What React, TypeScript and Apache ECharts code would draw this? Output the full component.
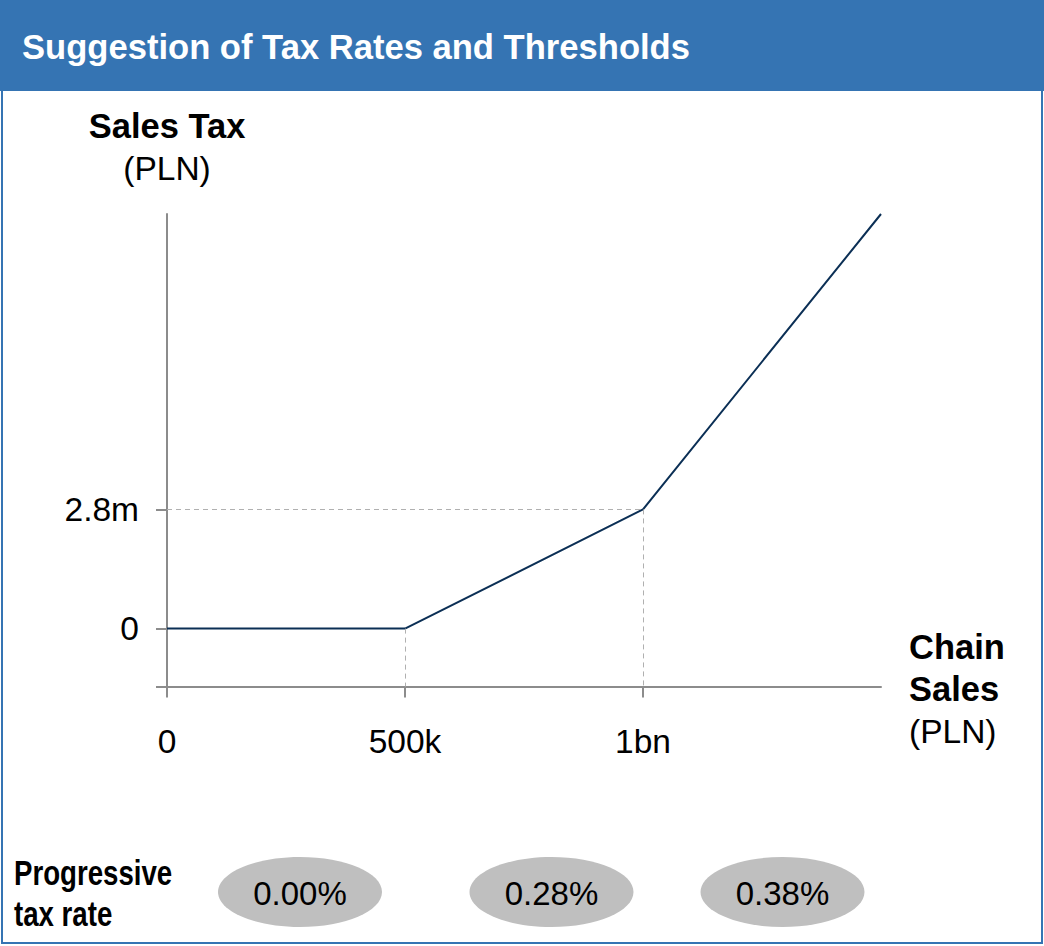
import React, { useEffect, useRef } from 'react';
import * as echarts from 'echarts';

// Chain sales thresholds (x categories) and the resulting sales tax (millions PLN)
const salesLabels = ['0', '500k', '1bn', ''];
const taxValues = [0, 0, 2.8, 9.74];
const taxTickValues = [0, 2.8];
const taxTickLabels = ['0', '2.8m'];
const taxAxisMin = -1.36;
const taxAxisMax = 9.74;
const rateLabels = ['0.00%', '0.28%', '0.38%'];

const FONT = 'Liberation Sans, Arial, Helvetica, sans-serif';

export default function App() {
  const ref = useRef<HTMLDivElement>(null);

  useEffect(() => {
    if (!ref.current) return;
    const chart = echarts.init(ref.current, undefined, { renderer: 'svg' });

    const blue = '#3574b3';
    const axisGrey = '#8c8c8c';
    const guide = '#b0b0b0';
    const rateX = [300, 551.5, 782.5];

    const option: any = {
      animation: false,
      backgroundColor: '#ffffff',
      grid: { left: 167, right: 163, top: 214, bottom: 259.5, containLabel: false },
      xAxis: {
        type: 'category',
        data: salesLabels,
        boundaryGap: false,
        axisLine: { onZero: false, lineStyle: { color: axisGrey, width: 2 } },
        axisTick: {
          length: 11,
          interval: (i: number) => salesLabels[i] !== '',
          lineStyle: { color: axisGrey, width: 2 },
        },
        axisLabel: { interval: 0, margin: 38, fontSize: 33.5, color: '#000', fontFamily: FONT },
        splitLine: { show: false },
      },
      yAxis: {
        type: 'value',
        min: taxAxisMin,
        max: taxAxisMax,
        axisLine: { show: true, lineStyle: { color: axisGrey, width: 2 } },
        axisTick: {
          show: true,
          length: 11,
          customValues: [taxAxisMin, ...taxTickValues],
          lineStyle: { color: axisGrey, width: 2 },
        },
        axisLabel: {
          customValues: taxTickValues,
          formatter: (v: number) => {
            const i = taxTickValues.findIndex((t) => Math.abs(t - v) < 1e-6);
            return i >= 0 ? taxTickLabels[i] : '';
          },
          margin: 28,
          fontSize: 33.5,
          color: '#000',
          fontFamily: FONT,
        },
        splitLine: { show: false },
      },
      series: [
        {
          type: 'line',
          data: taxValues,
          symbol: 'none',
          lineStyle: { color: '#0b2f55', width: 2 },
          z: 3,
          markLine: {
            silent: true,
            symbol: 'none',
            label: { show: false },
            lineStyle: { color: guide, type: [5, 4], width: 1 },
            data: [
              [{ coord: [salesLabels[0], taxValues[2]] }, { coord: [salesLabels[2], taxValues[2]] }],
              [{ coord: [salesLabels[1], taxValues[1]] }, { coord: [salesLabels[1], taxAxisMin] }],
              [{ coord: [salesLabels[2], taxValues[2]] }, { coord: [salesLabels[2], taxAxisMin] }],
            ],
          },
        },
      ],
      graphic: [
        { type: 'rect', shape: { x: 0, y: 0, width: 1044, height: 91 }, style: { fill: blue }, z: 1 },
        {
          type: 'rect',
          shape: { x: 2, y: 1, width: 1040, height: 942 },
          style: { fill: 'none', stroke: blue, lineWidth: 2 },
          z: 2,
        },
        {
          type: 'text',
          x: 22,
          y: 47,
          style: {
            text: 'Suggestion of Tax Rates and Thresholds',
            fill: '#ffffff',
            font: `bold 34.6px ${FONT}`,
            verticalAlign: 'middle',
          },
          z: 3,
        },
        {
          type: 'text',
          x: 167,
          y: 126,
          style: { text: 'Sales Tax', fill: '#000', font: `bold 34.5px ${FONT}`, align: 'center', verticalAlign: 'middle' },
        },
        {
          type: 'text',
          x: 167,
          y: 168,
          style: { text: '(PLN)', fill: '#000', font: `33.5px ${FONT}`, align: 'center', verticalAlign: 'middle' },
        },
        {
          type: 'text',
          x: 909,
          y: 647,
          style: { text: 'Chain', fill: '#000', font: `bold 34.5px ${FONT}`, verticalAlign: 'middle' },
        },
        {
          type: 'text',
          x: 909,
          y: 689,
          style: { text: 'Sales', fill: '#000', font: `bold 34.5px ${FONT}`, verticalAlign: 'middle' },
        },
        {
          type: 'text',
          x: 909,
          y: 731,
          style: { text: '(PLN)', fill: '#000', font: `33.5px ${FONT}`, verticalAlign: 'middle' },
        },
        // Condensed label: regular bold face squeezed horizontally
        {
          type: 'text',
          x: 14,
          y: 873,
          scaleX: 0.79,
          style: { text: 'Progressive', fill: '#000', font: `bold 35px ${FONT}`, verticalAlign: 'middle' },
        },
        {
          type: 'text',
          x: 14,
          y: 914,
          scaleX: 0.79,
          style: { text: 'tax rate', fill: '#000', font: `bold 35px ${FONT}`, verticalAlign: 'middle' },
        },
        ...rateLabels.flatMap((label, i) => [
          {
            type: 'ellipse',
            shape: { cx: rateX[i], cy: 892, rx: 82, ry: 35 },
            style: { fill: '#bfbfbf' },
          },
          {
            type: 'text',
            x: rateX[i],
            y: 893,
            style: { text: label, fill: '#000', font: `33px ${FONT}`, align: 'center', verticalAlign: 'middle' },
          },
        ]),
      ],
    };

    chart.setOption(option);
    return () => chart.dispose();
  }, []);

  return (
    <div
      ref={ref}
      style={{ position: 'fixed', left: 0, top: 0, width: 1044, height: 946, background: '#fff' }}
    />
  );
}
